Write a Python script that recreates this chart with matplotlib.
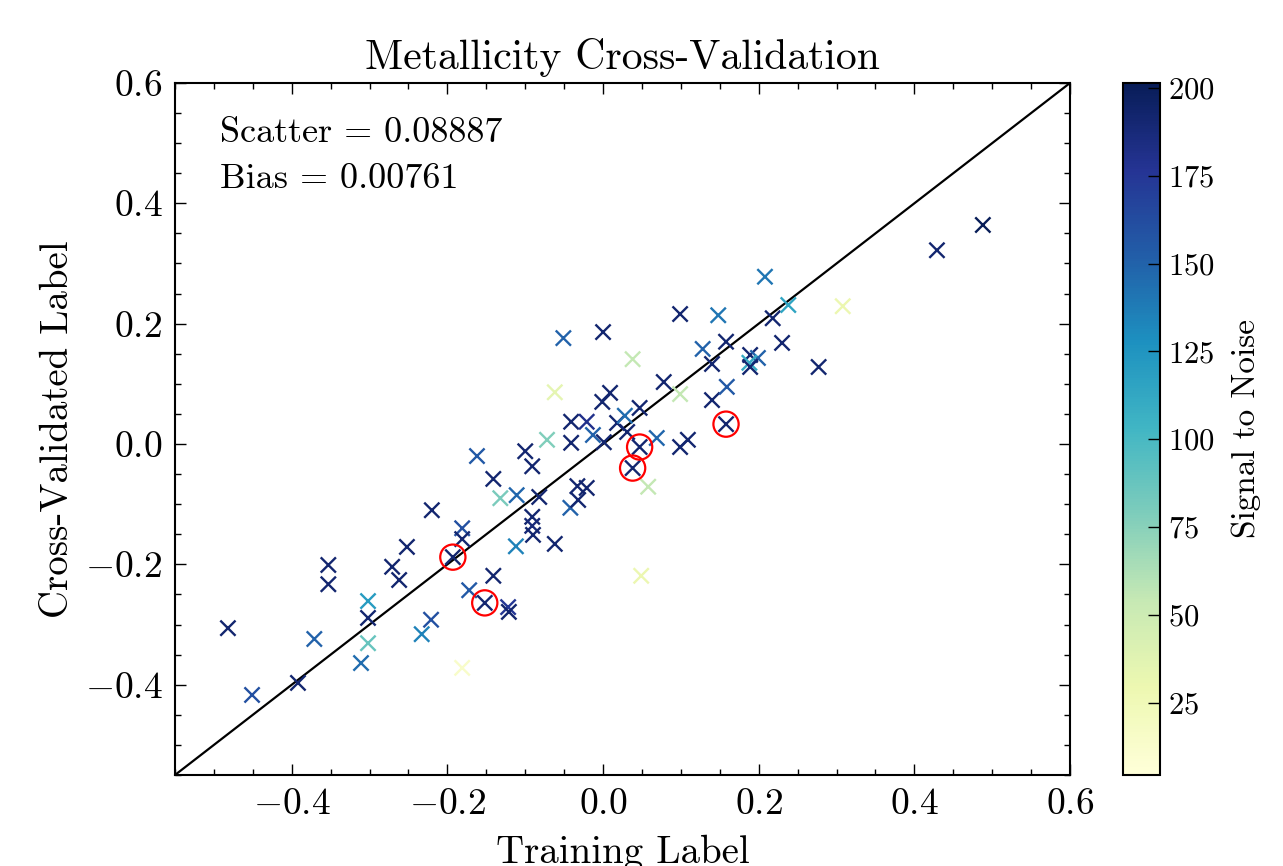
import matplotlib
matplotlib.use("Agg")
import matplotlib.pyplot as plt
import numpy as np

plt.rcParams["font.family"] = ["cmr10", "DejaVu Serif"]
plt.rcParams["mathtext.fontset"] = "cm"
plt.rcParams["axes.formatter.use_mathtext"] = True
plt.rcParams["axes.unicode_minus"] = True

# training label, cross-validated label, signal to noise
train = [-0.482, -0.451, -0.392, -0.371, -0.353, -0.353, -0.302, -0.302, -0.302, -0.311,
         -0.271, -0.262, -0.252, -0.233, -0.221, -0.220, -0.193, -0.181, -0.181, -0.181,
         -0.172, -0.152, -0.141, -0.162, -0.141, -0.132, -0.122, -0.121, -0.111, -0.112,
         -0.100, -0.091, -0.091, -0.091, -0.090, -0.082, -0.072, -0.062, -0.062, -0.051,
         -0.041, -0.041, -0.042, -0.021, -0.013, -0.033, -0.021, -0.032, 0.000, -0.001,
         0.009, 0.001, 0.018, 0.028, 0.031, 0.038, 0.047, 0.047, 0.038, 0.058,
         0.049, 0.069, 0.078, 0.099, 0.099, 0.099, 0.109, 0.128, 0.140, 0.140,
         0.148, 0.158, 0.159, 0.158, 0.189, 0.199, 0.188, 0.189, 0.208, 0.218,
         0.238, 0.230, 0.277, 0.308, 0.429, 0.488]
crossval = [-0.306, -0.417, -0.397, -0.324, -0.201, -0.233, -0.261, -0.289, -0.331, -0.364,
            -0.204, -0.226, -0.171, -0.316, -0.292, -0.110, -0.188, -0.140, -0.158, -0.372,
            -0.243, -0.264, -0.219, -0.020, -0.058, -0.090, -0.271, -0.279, -0.085, -0.170,
            -0.012, -0.037, -0.121, -0.136, -0.151, -0.088, 0.007, 0.086, -0.166, 0.176,
            0.037, 0.002, -0.106, 0.037, 0.015, -0.070, -0.073, -0.093, 0.186, 0.070,
            0.085, 0.003, 0.035, 0.047, 0.020, 0.141, 0.060, -0.005, -0.040, -0.071,
            -0.219, 0.010, 0.103, 0.216, 0.083, -0.005, 0.007, 0.158, 0.133, 0.073,
            0.214, 0.170, 0.095, 0.033, 0.148, 0.143, 0.135, 0.128, 0.278, 0.209,
            0.231, 0.168, 0.128, 0.229, 0.322, 0.364]
snr = [192, 160, 192, 150, 192, 192, 120, 192, 88, 145,
       192, 192, 192, 135, 160, 192, 192, 160, 192, 15,
       155, 192, 192, 155, 192, 80, 175, 192, 148, 135,
       192, 192, 192, 188, 192, 192, 78, 35, 192, 150,
       192, 192, 150, 180, 150, 192, 192, 192, 192, 192,
       192, 192, 192, 145, 192, 55, 192, 192, 192, 55,
       30, 148, 192, 192, 55, 192, 192, 150, 192, 192,
       140, 192, 155, 192, 192, 150, 110, 192, 140, 192,
       115, 192, 192, 30, 192, 201]

# flagged stars (red circles)
flag_train = [-0.193, -0.152, 0.047, 0.038, 0.158]
flag_cross = [-0.188, -0.264, -0.005, -0.040, 0.033]

scatter_val = 0.08887
bias_val = 0.00761
snr_min, snr_max = 4.4, 201.4
lims = (-0.55, 0.6)

fig = plt.figure(figsize=(12.83, 8.66), dpi=100)
ax = fig.add_axes([0.1364, 0.1051, 0.6976, 0.7991])
cax = fig.add_axes([0.8753, 0.1051, 0.0288, 0.7991])

ax.plot(lims, lims, color="black", linewidth=1.6, zorder=1)
sc = ax.scatter(train, crossval, c=snr, cmap="YlGnBu", vmin=snr_min, vmax=snr_max,
                marker="x", s=120, linewidths=1.7, zorder=2)
ax.scatter(flag_train, flag_cross, s=330, facecolors="none", edgecolors="red",
           linewidths=1.6, zorder=3)

ax.set_xlim(lims)
ax.set_ylim(lims)
ax.set_xticks([-0.4, -0.2, 0.0, 0.2, 0.4, 0.6])
ax.set_yticks([-0.4, -0.2, 0.0, 0.2, 0.4, 0.6])
ax.minorticks_on()
ax.tick_params(which="both", direction="in", top=True, right=True, labelsize=27, pad=9)
ax.tick_params(which="major", length=8, width=1.0)
ax.tick_params(which="minor", length=4, width=1.0)
for sp in ax.spines.values():
    sp.set_linewidth(1.5)

ax.set_title("Metallicity Cross-Validation", fontsize=30, pad=10)
ax.set_xlabel("Training Label", fontsize=28, labelpad=10)
ax.set_ylabel("Cross-Validated Label", fontsize=28, labelpad=6)

ax.text(0.05, 0.95, f"Scatter = {scatter_val:.5f}", transform=ax.transAxes,
        fontsize=26, va="top", ha="left")
ax.text(0.05, 0.884, f"Bias = {bias_val:.5f}", transform=ax.transAxes,
        fontsize=26, va="top", ha="left")

cb = fig.colorbar(sc, cax=cax, ticks=[25, 50, 75, 100, 125, 150, 175, 200])
cb.outline.set_linewidth(1.5)
cax.tick_params(direction="in", length=9, width=1.0, labelsize=22, pad=6)
cb.set_label("Signal to Noise", fontsize=24, labelpad=12)

fig.savefig("out.png", dpi=100)
